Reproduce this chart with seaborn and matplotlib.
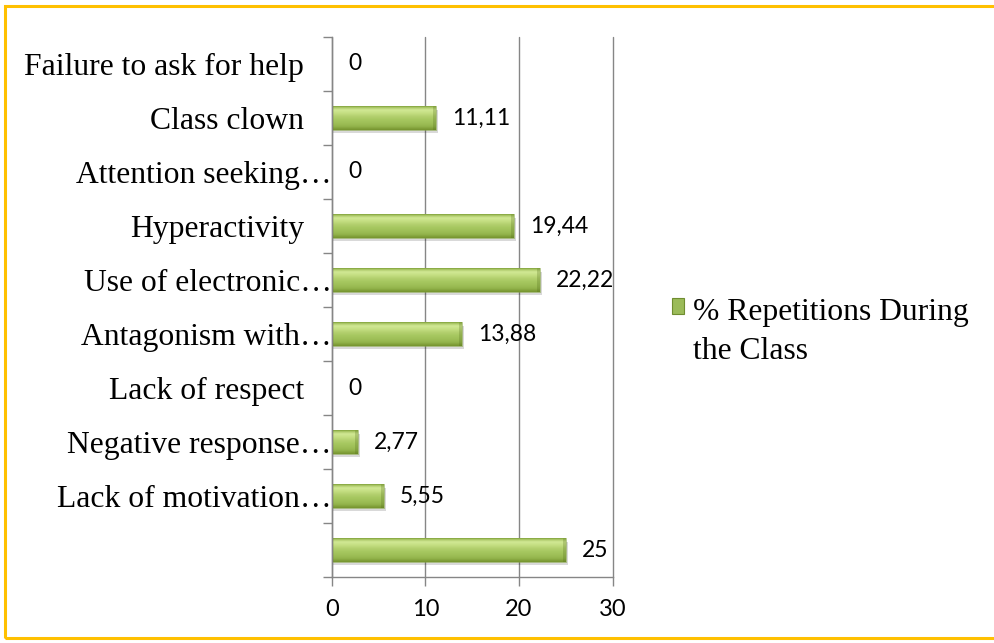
import numpy as np
import pandas as pd
import matplotlib
matplotlib.use("Agg")
import matplotlib.pyplot as plt
import matplotlib.transforms as mtransforms
from matplotlib.patches import Rectangle
from matplotlib.colors import LinearSegmentedColormap
from matplotlib.offsetbox import HPacker
import seaborn as sns

# ---- data -------------------------------------------------------------
categories = [
    "Failure to ask for help",
    "Class clown",
    "Attention seeking\u2026",
    "Hyperactivity",
    "Use of electronic\u2026",
    "Antagonism with\u2026",
    "Lack of respect",
    "Negative response\u2026",
    "Lack of motivation\u2026",
    "",
]
values = [0, 11.11, 0, 19.44, 22.22, 13.88, 0, 2.77, 5.55, 25]
series_name = "% Repetitions During\nthe Class"
x_ticks = [0, 10, 20, 30]

df = pd.DataFrame({"category": categories, "value": values})

# ---- style ------------------------------------------------------------
sns.set_theme(style="white")
serif = ["Liberation Serif", "DejaVu Serif"]
sans = ["Lato", "DejaVu Sans"]
axis_grey = "#868686"
bar_green = "#9bbb59"

fig = plt.figure(figsize=(9.94, 6.43), dpi=100)
ax = fig.add_axes([0.334, 0.1026, 0.2822, 0.8399])

sns.barplot(data=df, y="category", x="value", orient="h", color=bar_green,
            width=0.43, saturation=1, ax=ax, zorder=3)

ax.set_xlim(0, 30)
ax.set_ylim(len(categories) - 0.5, -0.5)
ax.set_xlabel("")
ax.set_ylabel("")

# bevelled gradient for each bar (top row of the image = top of the bar)
grad = LinearSegmentedColormap.from_list(
    "bevel",
    ["#93b24a", "#d2e995", "#c5df83", "#b3d06e", "#a6c760", "#9ebf57",
     "#93b44c", "#76942f"],
)
ny, nx = 40, 200
vy = np.linspace(0, 1, ny)[:, None]
img = np.repeat(vy, nx, axis=1)
for p in list(ax.patches):
    w = p.get_width()
    if w <= 0:
        p.set_visible(False)
        continue
    x0, y0, h = p.get_x(), p.get_y(), p.get_height()
    # soft shadow beneath
    ax.add_patch(Rectangle((x0 + 0.05, y0 + 0.07), w + 0.15, h, facecolor="#000000",
                           alpha=0.15, edgecolor="none", zorder=2))
    im = ax.imshow(img, extent=(x0, x0 + w, y0 + h, y0), aspect="auto",
                   cmap=grad, vmin=0, vmax=1, zorder=4, interpolation="bicubic")
    im.set_clip_path(p)
    # slightly darker bevelled ends
    endw = min(0.3, w * 0.12)
    ax.add_patch(Rectangle((x0 + w - endw, y0), endw, h, facecolor="#4f6a18",
                           alpha=0.25, edgecolor="none", zorder=5))
    ax.add_patch(Rectangle((x0, y0), endw * 0.7, h, facecolor="#4f6a18",
                           alpha=0.12, edgecolor="none", zorder=5))
    p.set_edgecolor("#84a440")
    p.set_linewidth(0.4)
    p.set_facecolor("none")
    p.set_zorder(6)

# value labels
for i, v in enumerate(values):
    ax.annotate(f"{v:g}".replace(".", ","), xy=(v, i), xytext=(11.5, 0),
                textcoords="offset points", ha="left", va="center",
                fontsize=16.5, family=sans, color="#000000", zorder=7)

# grid and spines
ax.set_xticks(x_ticks)
ax.grid(axis="x", color=axis_grey, linewidth=1.0, zorder=0)
for gl in ax.get_xgridlines():
    gl.set_clip_on(False)
ax.grid(axis="y", visible=False)
for s in ["top", "right"]:
    ax.spines[s].set_visible(False)
for s in ["left", "bottom"]:
    ax.spines[s].set_color(axis_grey)
    ax.spines[s].set_linewidth(1.0)
    ax.spines[s].set_zorder(8)

ax.tick_params(axis="x", which="major", bottom=True, length=6.5, width=1.0,
               color=axis_grey, pad=9, labelsize=17, labelcolor="#000000")
for lab in ax.get_xticklabels():
    lab.set_family(sans)

# y ticks: labels at category centres, tick marks at the boundaries
ax.set_yticks(range(len(categories)))
ax.set_yticklabels(categories)
ax.set_yticks(np.arange(-0.5, len(categories), 1.0), minor=True)
ax.tick_params(axis="y", which="major", left=True, length=0, pad=20,
               labelsize=22.8, labelcolor="#000000")
ax.tick_params(axis="y", which="minor", left=True, length=6.5, width=1.0,
               color=axis_grey)
shift = mtransforms.ScaledTranslation(20 / 72, 0, fig.dpi_scale_trans)
for lab in ax.get_yticklabels():
    lab.set_family(serif)
    if lab.get_text().endswith("\u2026"):
        lab.set_transform(lab.get_transform() + shift)

# legend: marker sits beside the first line of the two-line label
handle = Rectangle((0, 0), 1, 1, facecolor=bar_green, edgecolor="#6f8d30",
                   linewidth=0.8)
leg = fig.legend([handle], [series_name], loc="upper left",
                 bbox_to_anchor=(0.676, 0.536), frameon=False,
                 prop={"family": serif, "size": 22.8}, handlelength=0.38,
                 handleheight=0.38, handletextpad=0.28, labelspacing=0.1,
                 borderpad=0, borderaxespad=0)
for t in leg.get_texts():
    t.set_color("#000000")
    t.set_linespacing(1.42)


def _item_rows(box):
    for child in box.get_children():
        if isinstance(child, HPacker) and len(child.get_children()) == 2 \
                and not isinstance(child.get_children()[0], HPacker):
            yield child
        else:
            yield from _item_rows(child)


for row in _item_rows(leg._legend_handle_box):
    row.align = "top"

# outer frame
fig.patches.append(Rectangle((0.005, 0.007), 1.2, 0.983, transform=fig.transFigure,
                             fill=False, edgecolor="#ffc000", linewidth=2.2))

fig.savefig("out.png", dpi=100)
